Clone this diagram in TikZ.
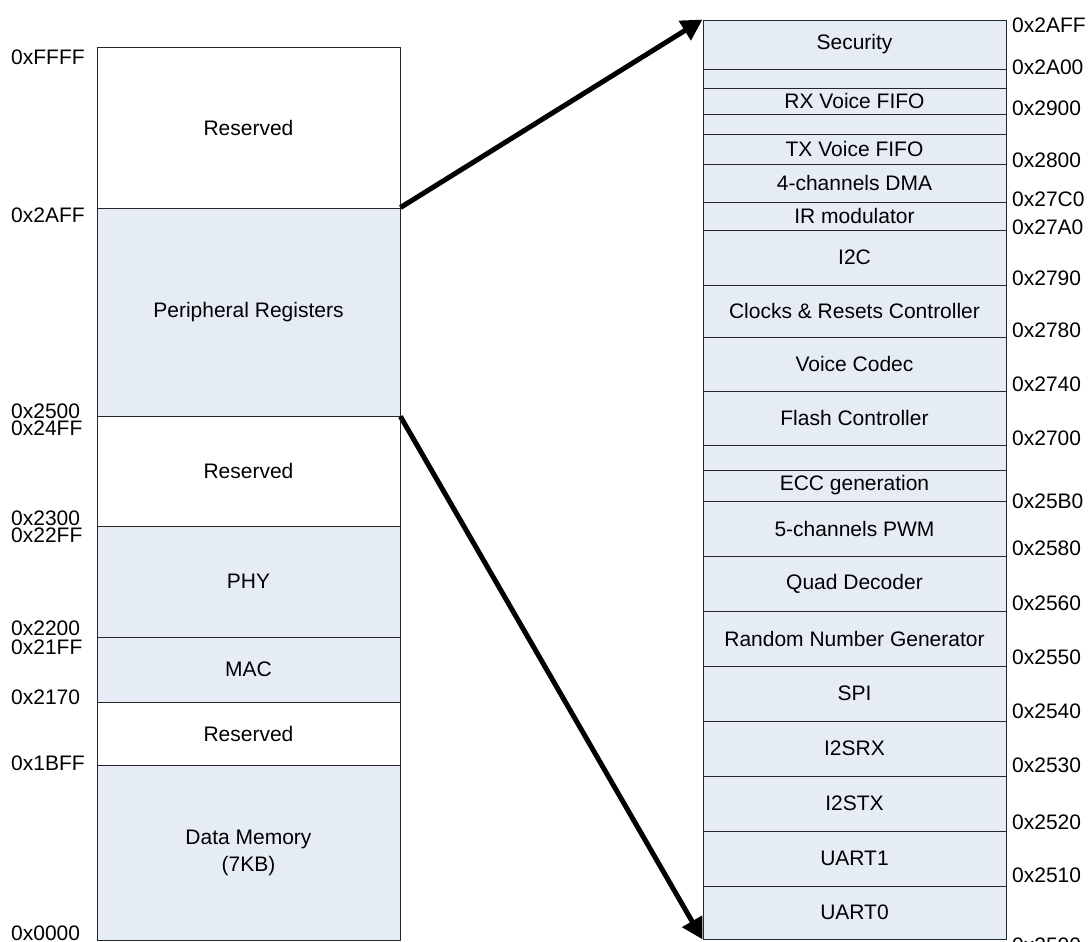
\documentclass[tikz,border=0pt]{standalone}
\usepackage{fontspec}
\setmainfont{Liberation Sans}
\usetikzlibrary{arrows.meta}
\definecolor{cellblue}{RGB}{230,236,246}
\begin{document}
\begin{tikzpicture}[x=1pt,y=-1pt,
  cell/.style={draw=black!85, line width=0.9pt, minimum width=303pt, inner sep=0pt, align=center, font=\fontsize{21}{27}\selectfont},
  addr/.style={inner sep=0pt, anchor=west, font=\fontsize{21}{25}\selectfont},
  bigarrow/.style={line width=5pt, -{Triangle[length=21pt,width=22pt]}}]
\useasboundingbox (0,0) rectangle (1088,942);
% left memory map
\foreach \t/\b/\f/\txt/\nm in {
  47/208/white/Reserved/L1,
  208/416/cellblue/Peripheral Registers/L2,
  416/526/white/Reserved/L3,
  526/637/cellblue/PHY/L4,
  637/702/cellblue/MAC/L5,
  702/765/white/Reserved/L6,
  765/940/cellblue/{Data Memory\\(7KB)}/L7}
  \node[cell, fill=\f, minimum height={\b-\t}] (\nm) at (248.5,{(\t+\b)/2}) {\txt};
% right peripheral map
\foreach \t/\b/\txt/\nm in {
  20/69/Security/R1,
  69/88/{}/R2,
  88/114/RX Voice FIFO/R3,
  114/134/{}/R4,
  134/164/TX Voice FIFO/R5,
  164/202/4-channels DMA/R6,
  202/230/IR modulator/R7,
  230/285/I2C/R8,
  285/337/Clocks \& Resets Controller/R9,
  337/391/Voice Codec/R10,
  391/445/Flash Controller/R11,
  445/470/{}/R12,
  470/501/ECC generation/R13,
  501/556/5-channels PWM/R14,
  556/611/Quad Decoder/R15,
  611/666/Random Number Generator/R16,
  666/721/SPI/R17,
  721/776/I2SRX/R18,
  776/831/I2STX/R19,
  831/886/UART1/R20,
  886/939/UART0/R21}
  \node[cell, fill=cellblue, minimum height={\b-\t}] (\nm) at (854.5,{(\t+\b)/2}) {\txt};
% left addresses
\foreach \y/\a [count=\i] in {57/0xFFFF, 215/0x2AFF, 411/0x2500, 428/0x24FF, 518/0x2300, 535/0x22FF, 628/0x2200, 647/0x21FF, 697/0x2170, 763/0x1BFF, 933/0x0000}
  \node[addr] (la\i) at (11,\y) {\a};
% right addresses
\foreach \y/\a [count=\i] in {25/0x2AFF, 67/0x2A00, 108/0x2900, 160/0x2800, 199/0x27C0, 227/0x27A0, 278/0x2790, 330/0x2780, 384/0x2740, 438/0x2700, 501/0x25B0, 548/0x2580, 603/0x2560, 657/0x2550, 711/0x2540, 765/0x2530, 822/0x2520, 875/0x2510, 945/0x2500}
  \node[addr] (ra\i) at (1012,\y) {\a};
% arrows
\draw[bigarrow] (L2.north east) -- (R1.north west);
\draw[bigarrow] (L2.south east) -- (R21.south west);
\end{tikzpicture}
\end{document}
